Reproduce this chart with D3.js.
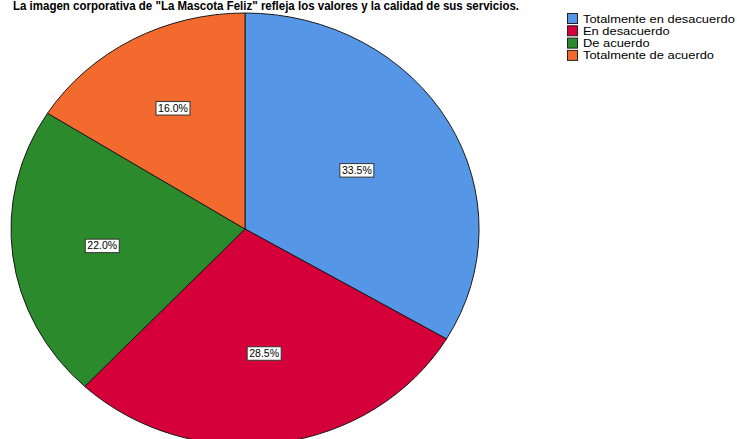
<!DOCTYPE html>
<html>
<head>
<meta charset="utf-8">
<script src="https://cdn.jsdelivr.net/npm/d3@7"></script>
<style>
  html, body { margin: 0; padding: 0; background: #fff; }
  svg { display: block; }
</style>
</head>
<body>
<svg id="chart" width="737" height="439"></svg>
<script>
// Survey answers and their share of respondents (%)
const categories = ["Totalmente en desacuerdo", "En desacuerdo", "De acuerdo", "Totalmente de acuerdo"];
const percentages = [33.5, 28.5, 22.0, 16.0];
const sliceColors = ["#5596E6", "#D5003A", "#2B8A2B", "#F26A2E"];
const titleText = "La imagen corporativa de \"La Mascota Feliz\" refleja los valores y la calidad de sus servicios.";

const svg = d3.select("#chart");

// Elliptical pie geometry
const cx = 245, cy = 229, rx = 234, ry = 216;

// Title
svg.append("text")
  .attr("x", 13).attr("y", 10)
  .attr("textLength", 506).attr("lengthAdjust", "spacingAndGlyphs")
  .attr("font-family", "Liberation Sans, Arial, sans-serif")
  .attr("font-weight", "bold").attr("font-size", 12)
  .attr("fill", "#000")
  .text(titleText);

const color = d3.scaleOrdinal().domain(categories).range(sliceColors);

const data = categories.map((c, i) => ({ cat: c, value: percentages[i] }));
const pie = d3.pie().sort(null).value(d => d.value).startAngle(0).endAngle(2 * Math.PI);
const arcs = pie(data);

// Slices are drawn on a unit circle and stretched into the ellipse
const unitArc = d3.arc().innerRadius(0).outerRadius(1);
const g = svg.append("g").attr("transform", `translate(${cx},${cy}) scale(${rx},${ry})`);

g.selectAll("path.slice")
  .data(arcs)
  .join("path")
  .attr("class", "slice")
  .attr("d", unitArc)
  .attr("fill", d => color(d.data.cat))
  .attr("stroke", "#1a1a1a")
  .attr("stroke-width", 1)
  .attr("vector-effect", "non-scaling-stroke")
  .attr("stroke-linejoin", "round");

// Value labels at each sector's area centroid
const fmt = d3.format(".1f");
const labels = svg.append("g").attr("transform", `translate(${cx},${cy})`);
arcs.forEach(a => {
  const theta = a.endAngle - a.startAngle;
  const mid = (a.startAngle + a.endAngle) / 2;
  const k = 4 * Math.sin(theta / 2) / (3 * theta);
  const x = rx * k * Math.sin(mid);
  const y = -ry * k * Math.cos(mid);
  const lg = labels.append("g").attr("transform", `translate(${x},${y})`);
  lg.append("rect")
    .attr("x", -17).attr("y", -6.5)
    .attr("width", 34).attr("height", 13.5)
    .attr("fill", "#fff")
    .attr("stroke", "#333")
    .attr("stroke-width", 1);
  lg.append("text")
    .attr("text-anchor", "middle")
    .attr("dy", "0.35em")
    .attr("font-family", "Liberation Sans, Arial, sans-serif")
    .attr("font-size", 10.5)
    .attr("fill", "#000")
    .text(fmt(a.data.value) + "%");
});

// Legend
const legend = svg.append("g").attr("transform", "translate(567,13)");
const rowH = 12.3;
categories.forEach((c, i) => {
  const row = legend.append("g").attr("transform", `translate(0,${i * rowH})`);
  row.append("rect")
    .attr("x", 0.5).attr("y", 0.5)
    .attr("width", 10).attr("height", 10)
    .attr("fill", color(c))
    .attr("stroke", "#222").attr("stroke-width", 1);
  const t = row.append("text")
    .attr("x", 16).attr("y", 9.5)
    .attr("font-family", "Liberation Sans, Arial, sans-serif")
    .attr("font-size", 11.5)
    .attr("fill", "#000")
    .text(c);
  // slightly wide lettering
  const w = t.node().getComputedTextLength();
  t.attr("textLength", w * 1.12).attr("lengthAdjust", "spacingAndGlyphs");
});
</script>
</body>
</html>
